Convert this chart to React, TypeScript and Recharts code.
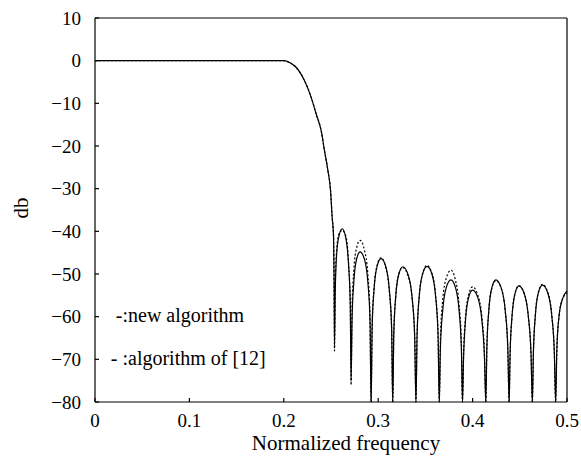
import React from 'react';
import { LineChart, Line, XAxis, YAxis, Legend } from 'recharts';

// frequency samples (transition band, then one group per sidelobe)
const freq = [
  0, 0.1, 0.185, 0.2, 0.2065, 0.2132, 0.222, 0.229, 0.2343, 0.2396, 0.2431, 0.2467, 0.2495, 0.2512, 0.2527, 0.2533, 0.2537,
  0.2545, 0.2561, 0.2586, 0.2618, 0.2656, 0.2685, 0.2704, 0.2713,
  0.2723, 0.2742, 0.277, 0.2808, 0.2855, 0.289, 0.2913, 0.2925,
  0.2936, 0.2957, 0.2988, 0.303, 0.308, 0.3117, 0.3142, 0.3154,
  0.3165, 0.3186, 0.3218, 0.326, 0.3316, 0.3358, 0.3386, 0.34,
  0.3412, 0.3435, 0.347, 0.3517, 0.3569, 0.3608, 0.3634, 0.3647,
  0.3659, 0.3684, 0.3721, 0.377, 0.3819, 0.3856, 0.3881, 0.3893,
  0.3904, 0.3925, 0.3957, 0.4, 0.4056, 0.4098, 0.4126, 0.414,
  0.4151, 0.4172, 0.4204, 0.4246, 0.4302, 0.4345, 0.4373, 0.4387,
  0.4397, 0.4418, 0.4449, 0.449, 0.4547, 0.459, 0.4619, 0.4633,
  0.4644, 0.4665, 0.4697, 0.474, 0.4796, 0.4838, 0.4866, 0.488,
  0.4892, 0.4915, 0.495, 0.5,
];

// solid curve: new algorithm (dB)
const newAlgorithm = [
  0, 0, 0, 0, -0.5, -1.6, -4.7, -8.6, -12.5, -16.4, -21.1, -25.7, -30.4, -36.6, -41.3, -52, -67,
  -54, -45, -41, -39.4, -41.5, -47.5, -57, -75,
  -60.8, -51.8, -46.6, -44.8, -46.6, -51.8, -60.8, -80,
  -62.4, -53.4, -48.2, -46.4, -48.2, -53.4, -62.4, -80,
  -64.3, -55.3, -50.1, -48.3, -50.1, -55.3, -64.3, -80,
  -64.2, -55.2, -50, -48.2, -50, -55.2, -64.2, -80,
  -67.4, -58.4, -53.2, -51.4, -53.2, -58.4, -67.4, -80,
  -69.8, -60.8, -55.6, -53.8, -55.6, -60.8, -69.8, -80,
  -67.4, -58.4, -53.2, -51.4, -53.2, -58.4, -67.4, -80,
  -68.8, -59.8, -54.6, -52.8, -54.6, -59.8, -68.8, -80,
  -68.6, -59.6, -54.4, -52.6, -54.4, -59.6, -68.6, -80,
  -68, -60, -56, -54,
];

// dashed curve: algorithm of [12] (dB)
const oldAlgorithm = [
  0, 0, 0, 0, -0.5, -1.6, -4.7, -8.6, -12.5, -16.4, -21.1, -25.7, -30.4, -36.6, -41.3, -52, -68,
  -53, -44, -40.5, -39.8, -41, -47, -57, -76,
  -58, -49, -44, -42.1, -44.5, -50, -60, -80,
  -62, -53, -48, -46.2, -48.5, -54, -63, -80,
  -64, -55, -50, -48.5, -50.5, -55.5, -64.5, -80,
  -64, -55, -50, -48, -49.8, -55, -64, -80,
  -65, -56, -51, -49.1, -51.5, -57, -66, -80,
  -69, -60, -55, -53, -55, -60, -69, -80,
  -67.5, -58.5, -53.3, -51.6, -53.3, -58.5, -67.5, -80,
  -69, -60, -54.6, -52.8, -54.6, -60, -69, -80,
  -68.5, -59.5, -54.3, -52.4, -54.3, -59.5, -68.5, -80,
  -68, -60, -56, -54.5,
];

const xTicks = [0, 0.1, 0.2, 0.3, 0.4, 0.5];
const yTicks = [-80, -70, -60, -50, -40, -30, -20, -10, 0, 10];

const data = freq.map((f, i) => ({ f, a: newAlgorithm[i], b: oldAlgorithm[i] }));

const serif = 'Liberation Serif, DejaVu Serif, serif';
const tickStyle = { fill: '#000', fontSize: 19, fontFamily: serif };

const fmtY = (v: number) => (v < 0 ? `\u2212${-v}` : `${v}`);

const XTitle = (props: any) => {
  const { x, y, width } = props.viewBox;
  return (
    <text x={x + width / 2 + 15} y={y + 48} textAnchor="middle" fontSize={21} fontFamily={serif} fill="#000">
      Normalized frequency
    </text>
  );
};

const YTitle = (props: any) => {
  const { y, height } = props.viewBox;
  const cx = 21;
  const cy = y + height / 2 - 2;
  return (
    <text x={cx} y={cy} transform={`rotate(-90, ${cx}, ${cy})`} textAnchor="middle" dominantBaseline="central"
      fontSize={21} fontFamily={serif} fill="#000">
      db
    </text>
  );
};

const LegendText = () => (
  <div style={{ fontFamily: serif, fontSize: 20, color: '#000', lineHeight: '43px' }}>
    <div><span style={{ display: 'inline-block', width: 18, textAlign: 'right' }}>-:</span>new algorithm</div>
    <div><span style={{ display: 'inline-block', width: 18, textAlign: 'right' }}>- :</span>algorithm of [12]</div>
  </div>
);

export default function App() {
  return (
    <div style={{ position: 'absolute', left: 0, top: 0, background: '#fff' }}>
      <LineChart width={581} height={458} data={data} margin={{ top: 17, right: 13, bottom: 0, left: 0 }}>
        <XAxis dataKey="f" type="number" domain={[0, 0.5]} ticks={xTicks} tickFormatter={(v) => String(v)}
          height={56} stroke="#000" strokeWidth={1.2} tickSize={-4} tickMargin={16} tick={tickStyle}
          label={XTitle} />
        <XAxis xAxisId="top" orientation="top" dataKey="f" type="number" domain={[0, 0.5]} ticks={xTicks}
          height={1} stroke="#000" strokeWidth={1.2} tickSize={-4} tick={false} />
        <YAxis type="number" domain={[-80, 10]} ticks={yTicks} tickFormatter={fmtY} width={95}
          stroke="#000" strokeWidth={1.2} tickSize={-4} tickMargin={18} tick={tickStyle} label={YTitle} />
        <YAxis yAxisId="right" orientation="right" type="number" domain={[-80, 10]} ticks={yTicks} width={1}
          stroke="#000" strokeWidth={1.2} tickSize={-4} tick={false} />
        <Legend layout="horizontal" align="center" verticalAlign="middle" content={LegendText}
          wrapperStyle={{ left: 110, top: 294, width: 'auto', height: 'auto' }} />
        <Line type="monotone" dataKey="b" stroke="#000" strokeWidth={1.2} strokeDasharray="2 2" dot={false}
          isAnimationActive={false} />
        <Line type="monotone" dataKey="a" stroke="#000" strokeWidth={1.2} dot={false} isAnimationActive={false} />
      </LineChart>
    </div>
  );
}
